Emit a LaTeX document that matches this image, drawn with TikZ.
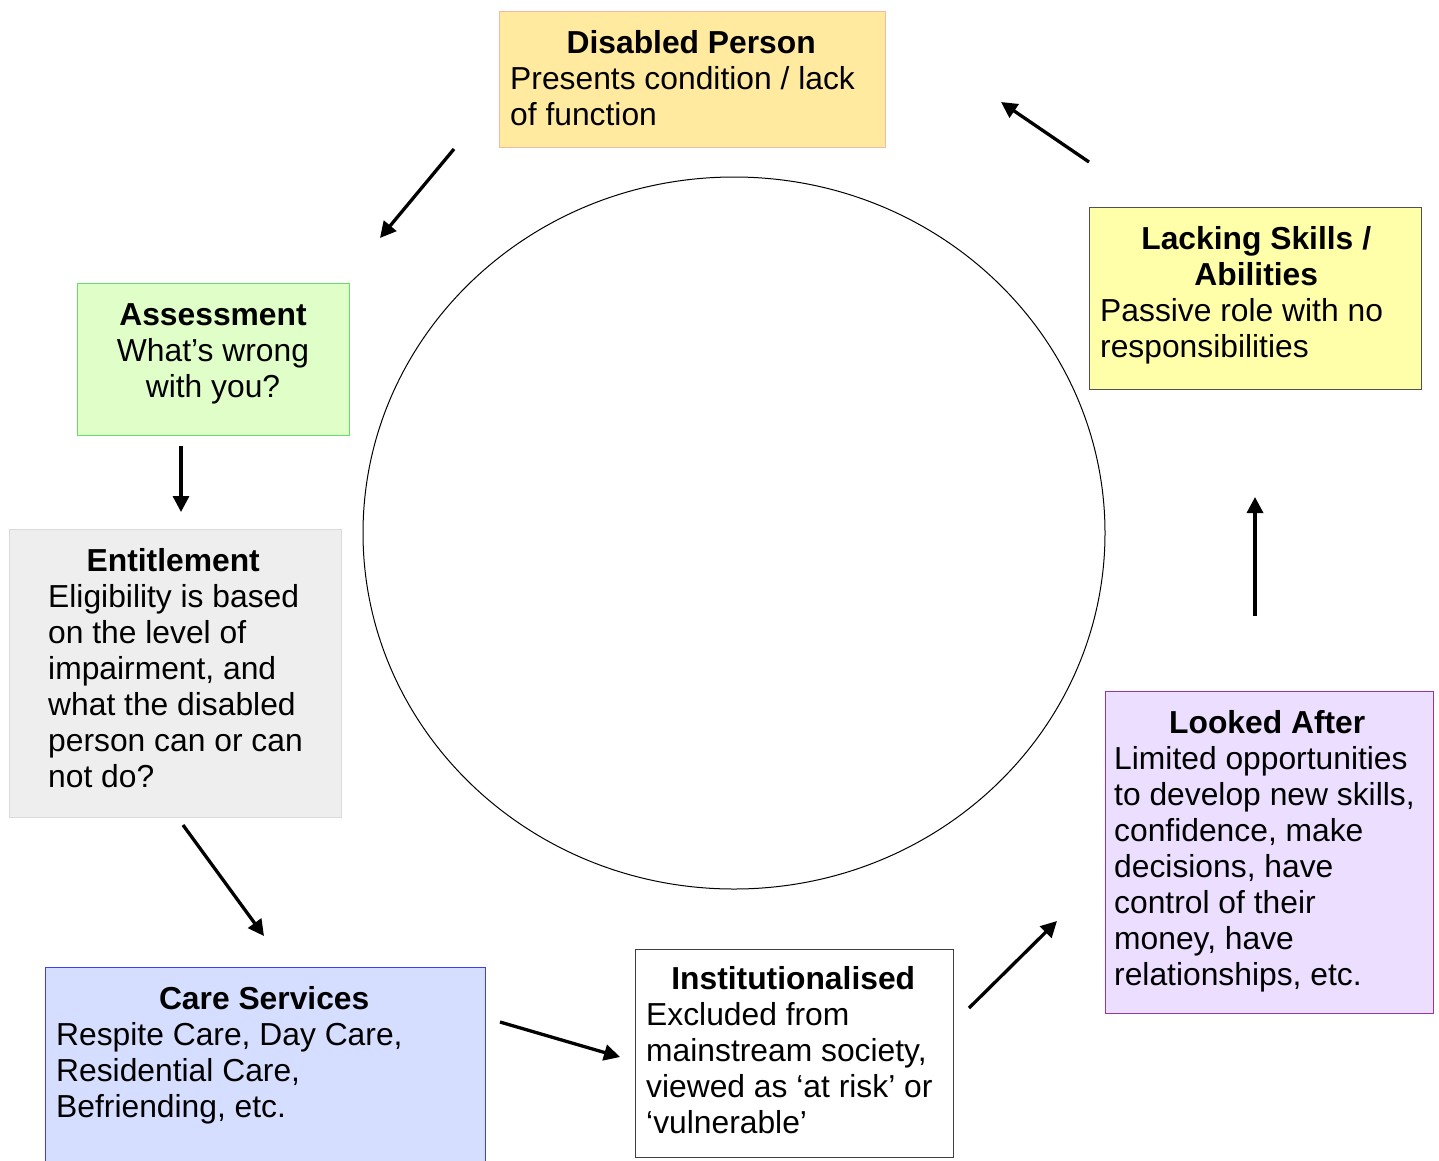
\documentclass[tikz,border=0pt]{standalone}
\usepackage{fontspec}
\setmainfont{Liberation Sans}
\usetikzlibrary{arrows.meta}
\definecolor{dpfill}{RGB}{255,234,160}
\definecolor{dpdraw}{RGB}{245,185,160}
\definecolor{asfill}{RGB}{224,255,200}
\definecolor{asdraw}{RGB}{102,221,102}
\definecolor{enfill}{RGB}{238,238,238}
\definecolor{endraw}{RGB}{218,218,218}
\definecolor{csfill}{RGB}{214,222,255}
\definecolor{csdraw}{RGB}{60,60,255}
\definecolor{indraw}{RGB}{64,64,64}
\definecolor{lafill}{RGB}{236,222,255}
\definecolor{ladraw}{RGB}{153,51,170}
\definecolor{lsfill}{RGB}{255,255,170}
\definecolor{lsdraw}{RGB}{80,80,80}
\tikzset{
  boxshape/.style={rectangle, line width=1pt, inner sep=0pt, anchor=north west},
  txt/.style={inner sep=0pt, align=left, anchor=base west, font=\fontsize{31.8}{36}\selectfont},
  arr/.style={line width=3.3pt, -{Triangle[length=16pt,width=16pt]}},
}
\begin{document}
\begin{tikzpicture}[x=1pt,y=-1pt]
\useasboundingbox (0,0) rectangle (1439,1160);
\fill[white] (0,0) rectangle (1439,1160);

% circle
\draw[line width=1pt] (734,533) ellipse [x radius=371, y radius=356];

% boxes
\node[boxshape, fill=dpfill, draw=dpdraw, minimum width=386pt, minimum height=136pt] (dp) at (499,11) {};
\node[boxshape, fill=asfill, draw=asdraw, minimum width=272pt, minimum height=152pt] (as) at (77,283) {};
\node[boxshape, fill=enfill, draw=endraw, minimum width=332pt, minimum height=288pt] (en) at (9,529) {};
\node[boxshape, fill=csfill, draw=csdraw, minimum width=440pt, minimum height=198pt] (cs) at (45,967) {};
\node[boxshape, fill=white, draw=indraw, minimum width=318pt, minimum height=208pt] (in) at (635,949) {};
\node[boxshape, fill=lafill, draw=ladraw, minimum width=328pt, minimum height=322pt] (la) at (1105,691) {};
\node[boxshape, fill=lsfill, draw=lsdraw, minimum width=332pt, minimum height=182pt] (ls) at (1089,207) {};

% texts (base anchor = baseline of last line)
\node[txt] (dpT) at (510,125.5) {\makebox[362pt][c]{\bfseries Disabled Person}\\Presents condition / lack\\of function};
\node[txt, align=center, anchor=base] (asT) at (213,397.5) {\bfseries Assessment\\What’s wrong\\with you?};
\node[txt] (enT) at (48,787.5) {\makebox[250pt][c]{\bfseries Entitlement}\\Eligibility is based\\on the level of\\impairment, and\\what the disabled\\person can or can\\not do?};
\node[txt] (csT) at (56,1117.5) {\makebox[416pt][c]{\bfseries Care Services}\\Respite Care, Day Care,\\Residential Care,\\Befriending, etc.};
\node[txt] (inT) at (646,1133.5) {\makebox[294pt][c]{\bfseries Institutionalised}\\Excluded from\\mainstream society,\\viewed as ‘at risk’ or\\‘vulnerable’};
\node[txt] (laT) at (1114,985.5) {\makebox[306pt][c]{\bfseries Looked After}\\Limited opportunities\\to develop new skills,\\confidence, make\\decisions, have\\control of their\\money, have\\relationships, etc.};
\node[txt] (lsT) at (1100,357.5) {\makebox[312pt][c]{\bfseries Lacking Skills /}\\\makebox[312pt][c]{\bfseries Abilities}\\Passive role with no\\responsibilities};

% arrows
\coordinate (a1s) at (454,149); \coordinate (a1e) at (380,238);
\coordinate (a2s) at (181,446); \coordinate (a2e) at (181,512);
\coordinate (a3s) at (183,825); \coordinate (a3e) at (264,936);
\coordinate (a4s) at (500,1022); \coordinate (a4e) at (620,1057);
\coordinate (a5s) at (969,1008); \coordinate (a5e) at (1057,921);
\coordinate (a6s) at (1255,616); \coordinate (a6e) at (1255,497);
\coordinate (a7s) at (1089,162); \coordinate (a7e) at (1001,102);
\draw[arr] (a1s) -- (a1e);
\draw[arr] (a2s) -- (a2e);
\draw[arr] (a3s) -- (a3e);
\draw[arr] (a4s) -- (a4e);
\draw[arr] (a5s) -- (a5e);
\draw[arr] (a6s) -- (a6e);
\draw[arr] (a7s) -- (a7e);
\end{tikzpicture}
\end{document}
